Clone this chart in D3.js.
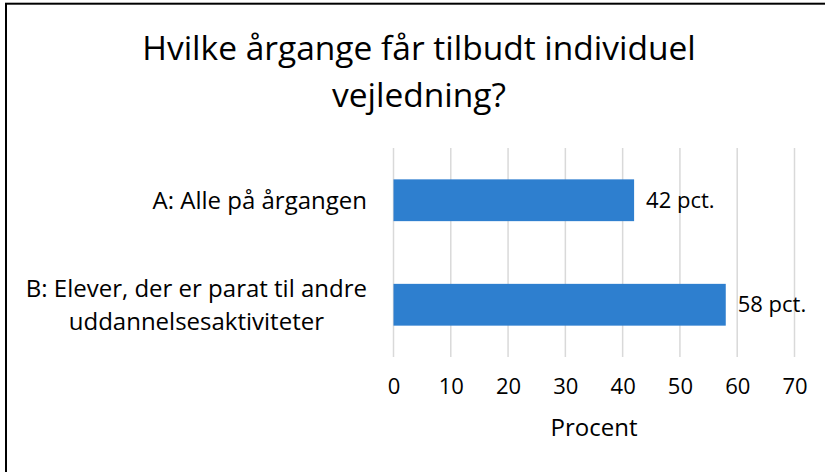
<!DOCTYPE html>
<html><head><meta charset="utf-8">
<script src="https://cdn.jsdelivr.net/npm/d3@7"></script>
<style>html,body{margin:0;padding:0;background:#fff;}svg{display:block;}</style>
</head><body>
<svg id="c" width="825" height="472"></svg>
<script>
const titleLines = ["Hvilke årgange får tilbudt individuel", "vejledning?"];
const categories = [["A: Alle på årgangen"], ["B: Elever, der er parat til andre", "uddannelsesaktiviteter"]];
const values = [42, 58];
const valueLabels = ["42 pct.", "58 pct."];
const ticks = [0, 10, 20, 30, 40, 50, 60, 70];
const axisTitle = "Procent";

const FONT = "'Open Sans', sans-serif";
const svg = d3.select("#c");

// chart border (frame cut off at right/bottom)
svg.append("rect").attr("x", 6).attr("y", 3.7).attr("width", 900).attr("height", 600)
  .attr("fill", "none").attr("stroke", "#000").attr("stroke-width", 2);

const x = d3.scaleLinear().domain([0, 70]).range([393.5, 794.5]);
const y = d3.scaleBand().domain(d3.range(categories.length)).range([148, 357]).paddingInner(0.6).paddingOuter(0.3);

// gridlines
svg.append("g").selectAll("line").data(ticks).join("line")
  .attr("x1", d => x(d)).attr("x2", d => x(d)).attr("y1", 148).attr("y2", 357)
  .attr("stroke", "#D9D9D9").attr("stroke-width", 1.5);

// bars
svg.append("g").selectAll("rect").data(values).join("rect")
  .attr("x", x(0)).attr("y", (d, i) => y(i)).attr("width", d => x(d) - x(0)).attr("height", y.bandwidth())
  .attr("fill", "#2E7FCF");

// value labels
svg.append("g").selectAll("text").data(values).join("text")
  .attr("x", d => x(d) + 12).attr("y", (d, i) => y(i) + y.bandwidth() / 2)
  .attr("dy", "0.35em").attr("font-family", FONT).attr("font-size", 22).attr("fill", "#000")
  .text((d, i) => valueLabels[i]);

// x axis tick labels
const xAxis = d3.axisBottom(x).tickValues(ticks).tickSize(0).tickPadding(0);
const gx = svg.append("g").attr("transform", "translate(0,379)").call(xAxis);
gx.select(".domain").remove();
gx.selectAll("text").attr("font-family", FONT).attr("font-size", 22).attr("fill", "#000").attr("dy", "0.71em").attr("y", -1);

// axis title
svg.append("text").attr("x", 594).attr("y", 428).attr("dy", "0.35em").attr("text-anchor", "middle")
  .attr("font-family", FONT).attr("font-size", 24).attr("fill", "#000").text(axisTitle);

// category labels: block right-aligned, lines centered within block
const labelRight = 367;
const lineH = 33;
categories.forEach((lines, i) => {
  const g = svg.append("g");
  const cy = y(i) + y.bandwidth() / 2;
  const texts = lines.map((t, j) => g.append("text")
    .attr("font-family", FONT).attr("font-size", 24).attr("fill", "#000")
    .attr("y", cy + (j - (lines.length - 1) / 2) * lineH).attr("dy", "0.35em").text(t));
  const maxW = d3.max(texts, t => t.node().getComputedTextLength());
  texts.forEach(t => t.attr("text-anchor", "middle").attr("x", labelRight - maxW / 2));
});

// title
svg.append("g").selectAll("text").data(titleLines).join("text")
  .attr("x", 419).attr("y", (d, i) => 60 + i * 47).attr("text-anchor", "middle")
  .attr("font-family", FONT).attr("font-size", 33.5).attr("fill", "#000").text(d => d);
</script>
</body></html>
